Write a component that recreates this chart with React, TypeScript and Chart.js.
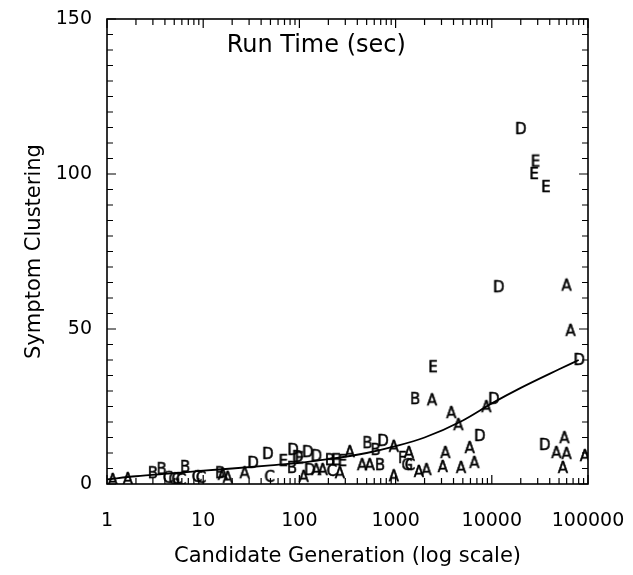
import React, { useEffect, useRef } from "react";
import { Chart, registerables } from "chart.js";

Chart.register(...registerables);

// ---- data ----
const pointsA: [number, number][] = [
  [1.15, 1.3], [1.65, 1.6], [16, 3], [18, 2], [27, 3.5], [111, 2.3], [150, 4.5], [175, 4.5],
  [264, 3.5], [335, 10.3], [450, 6.1], [540, 6.1], [960, 12], [960, 2.5], [1380, 10], [1750, 3.9],
  [2100, 4.5], [2400, 27], [3800, 22.9], [4500, 19], [3300, 10], [3100, 5.5], [4800, 5.2],
  [5900, 11.6], [6600, 6.8], [8800, 24.8], [47000, 10], [57000, 14.8], [60000, 9.7], [55000, 5.2],
  [93000, 9], [60000, 64], [66000, 49.4],
];
const pointsB: [number, number][] = [
  [3.0, 3.5], [3.7, 4.8], [6.5, 5.5], [15, 3.5], [84, 5.2], [208, 7.7], [510, 13.2], [620, 11],
  [690, 6.1], [1600, 27.4],
];
const pointsC: [number, number][] = [
  [4.3, 2], [5.3, 1.6], [5.9, 1.3], [8.6, 2.3], [9.5, 2], [49, 2.3], [217, 4.2], [1410, 6.1],
];
const pointsD: [number, number][] = [
  [33, 6.8], [47, 9.7], [86, 11], [96, 8.7], [122, 10.3], [150, 9], [128, 4.5], [740, 13.9],
  [7500, 15.5], [10500, 27.4], [35500, 12.6], [81000, 40], [11800, 63.5], [20000, 114.5],
];
const pointsE: [number, number][] = [
  [68, 7.4], [100, 8.3], [240, 7.7], [280, 7.4], [2450, 37.7], [28500, 104], [27500, 100], [36500, 95.8],
];
const pointsF: [number, number][] = [[1170, 8.4]];
const pointsG: [number, number][] = [[5.0, 1.5], [1320, 6.1]];

const trendX = [1, 2, 5, 10, 20, 50, 100, 200, 500, 1000, 2000, 5000, 10000, 20000, 50000, 80000];
const trendY = [1.5, 2.5, 3.5, 4.3, 5, 6, 6.8, 8, 10, 12.2, 15, 20.5, 26, 31, 37, 40];

const xTickValues = [1, 10, 100, 1000, 10000, 100000];
const yTickLabels = [0, 50, 100, 150];

const chartTitle = "Run Time (sec)";
const xTitle = "Candidate Generation (log scale)";
const yTitle = "Symptom Clustering";

const FONT = "'DejaVu Sans', 'Liberation Sans', sans-serif";

function letterCanvas(letter: string): HTMLCanvasElement {
  const c = document.createElement("canvas");
  c.width = 20;
  c.height = 20;
  const ctx = c.getContext("2d")!;
  ctx.fillStyle = "#000";
  ctx.strokeStyle = "#000";
  ctx.lineWidth = 0.5;
  ctx.font = `15px ${FONT}`;
  ctx.textAlign = "center";
  ctx.textBaseline = "middle";
  ctx.fillText(letter, 10, 11);
  ctx.strokeText(letter, 10, 11);
  return c;
}

function buildMinorX(): number[] {
  const out: number[] = [];
  for (let d = 1; d <= 10000; d *= 10) {
    for (let k = 1; k <= 9; k++) out.push(d * k);
  }
  out.push(100000);
  return out;
}

const framePlugin = {
  id: "frameTicks",
  afterDatasetsDraw(chart: any) {
    const { ctx, chartArea } = chart;
    const xs = chart.scales.x;
    const ys = chart.scales.y;
    const { left, right, top, bottom } = chartArea;
    ctx.save();
    ctx.strokeStyle = "#000";
    ctx.lineWidth = 1.6;
    ctx.strokeRect(left, top, right - left, bottom - top);
    ctx.lineWidth = 1.2;
    ctx.beginPath();
    for (const v of buildMinorX()) {
      const px = xs.getPixelForValue(v);
      const isMajor = xTickValues.includes(v);
      const len = isMajor ? 9 : 6;
      ctx.moveTo(px, bottom);
      ctx.lineTo(px, bottom - len);
      ctx.moveTo(px, top);
      ctx.lineTo(px, top + len);
    }
    for (let v = 0; v <= 150; v += 5) {
      const py = ys.getPixelForValue(v);
      const len = v % 50 === 0 ? 9 : 6;
      ctx.moveTo(left, py);
      ctx.lineTo(left + len, py);
      ctx.moveTo(right, py);
      ctx.lineTo(right - len, py);
    }
    ctx.stroke();
    // in-plot title
    ctx.fillStyle = "#000";
    ctx.font = `24px ${FONT}`;
    ctx.textAlign = "center";
    ctx.textBaseline = "middle";
    ctx.fillText(chartTitle, left + (right - left) * 0.435, top + 27);
    ctx.restore();
  },
};

export default function App() {
  const ref = useRef<HTMLCanvasElement | null>(null);

  useEffect(() => {
    if (!ref.current) return;
    const mk = (pts: [number, number][]) => pts.map(([x, y]) => ({ x, y }));
    const scatter = (label: string, pts: [number, number][]) => ({
      type: "scatter" as const,
      label,
      data: mk(pts),
      pointStyle: letterCanvas(label),
      pointRadius: 10,
      showLine: false,
    });
    const chart = new Chart(ref.current, {
      type: "scatter",
      data: {
        datasets: [
          {
            type: "line",
            label: "trend",
            data: trendX.map((x, i) => ({ x, y: trendY[i] })),
            borderColor: "#000",
            borderWidth: 1.8,
            pointRadius: 0,
            cubicInterpolationMode: "monotone",
            fill: false,
          } as any,
          scatter("A", pointsA),
          scatter("B", pointsB),
          scatter("C", pointsC),
          scatter("D", pointsD),
          scatter("E", pointsE),
          scatter("F", pointsF),
          scatter("G", pointsG),
        ],
      },
      options: {
        animation: false,
        responsive: false,
        layout: { padding: { left: 0, right: 45, top: 19, bottom: 0 } },
        plugins: {
          legend: { display: false },
          tooltip: { enabled: false },
        },
        scales: {
          x: {
            type: "logarithmic",
            min: 1,
            max: 100000,
            grid: { display: false, drawTicks: false },
            border: { display: false },
            afterBuildTicks: (scale: any) => {
              scale.ticks = xTickValues.map((v) => ({ value: v, major: true }));
            },
            afterFit: (scale: any) => {
              scale.height = 91;
              scale.paddingLeft = 0;
              scale.paddingRight = 0;
            },
            ticks: {
              autoSkip: false,
              maxRotation: 0,
              padding: 26,
              color: "#000",
              font: { family: FONT, size: 19 },
              callback: (v: any) => String(v),
            },
            title: {
              display: true,
              text: xTitle,
              color: "#000",
              font: { family: FONT, size: 21 },
              padding: { top: 0, bottom: 6 },
            },
          },
          y: {
            type: "linear",
            min: 0,
            max: 150,
            grid: { display: false, drawTicks: false },
            border: { display: false },
            afterBuildTicks: (scale: any) => {
              scale.ticks = yTickLabels.map((v) => ({ value: v }));
            },
            afterFit: (scale: any) => {
              scale.width = 107;
              scale.paddingTop = 0;
              scale.paddingBottom = 0;
            },
            ticks: {
              autoSkip: false,
              padding: 15,
              color: "#000",
              font: { family: FONT, size: 19 },
            },
            title: {
              display: true,
              text: yTitle,
              color: "#000",
              font: { family: FONT, size: 21 },
              padding: { top: 22, bottom: 0 },
            },
          },
        },
      },
      plugins: [framePlugin],
    } as any);
    return () => chart.destroy();
  }, []);

  return (
    <div style={{ position: "fixed", left: 0, top: 0, width: 633, height: 575, background: "#fff" }}>
      <canvas ref={ref} width={633} height={575} />
    </div>
  );
}
